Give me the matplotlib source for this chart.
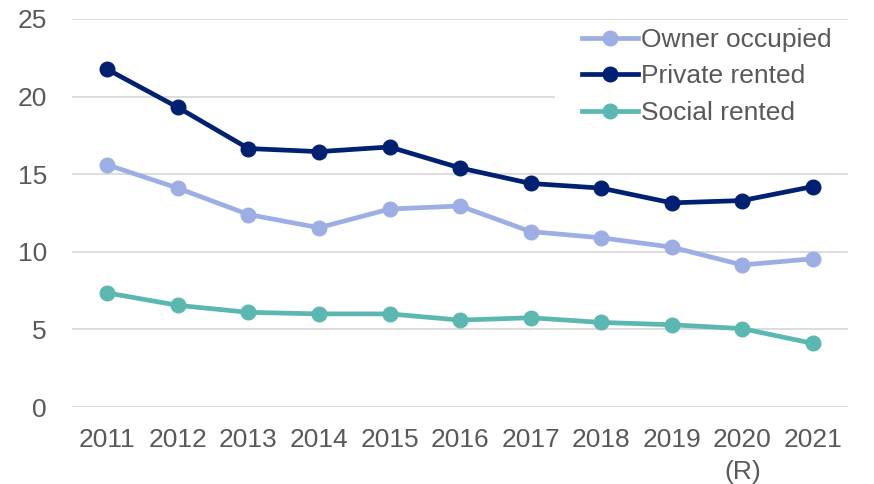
import matplotlib.pyplot as plt
import numpy as np
from matplotlib.patches import Rectangle

# years on the x axis (2020 revised)
years = ["2011", "2012", "2013", "2014", "2015", "2016", "2017", "2018", "2019", "2020\n(R)", "2021"]

# values
owner = [15.6, 14.1, 12.4, 11.55, 12.75, 12.95, 11.3, 10.9, 10.3, 9.15, 9.55]
private = [21.75, 19.3, 16.65, 16.45, 16.75, 15.4, 14.4, 14.1, 13.15, 13.3, 14.2]
social = [7.35, 6.55, 6.1, 6.0, 6.0, 5.6, 5.75, 5.45, 5.3, 5.05, 4.1]

plt.rcParams['font.family'] = ['Liberation Sans', 'DejaVu Sans']
grey = "#595959"
fs = 19

fig = plt.figure(figsize=(8.74, 4.84), dpi=100)
ax = fig.add_axes([0.0824, 0.159, 0.888, 0.802])

x = np.arange(len(years))
ax.plot(x, owner, color="#9DAEE5", lw=3.4, marker="o", ms=10.5, label="Owner occupied", zorder=3)
ax.plot(x, private, color="#002072", lw=3.4, marker="o", ms=10.5, label="Private rented", zorder=3)
ax.plot(x, social, color="#5BB8B0", lw=3.4, marker="o", ms=10.5, label="Social rented", zorder=3)

ax.set_xlim(-0.5, len(years) - 0.5)
ax.set_ylim(0, 25)
ax.set_yticks([0, 5, 10, 15, 20, 25])
ax.set_xticks(x)
ax.set_xticklabels(years)
for lab in ax.get_xticklabels():
    lab.set_linespacing(1.45)
ax.grid(axis="y", color="#D9D9D9", lw=1.3)
ax.set_axisbelow(True)
for s in ax.spines.values():
    s.set_visible(False)
ax.tick_params(length=0, labelsize=fs, colors=grey)
ax.tick_params(axis="x", pad=15)
ax.tick_params(axis="y", pad=18)

# white box behind the legend hides part of the gridlines
ax.add_patch(Rectangle((0.622, 0.662), 0.378, 0.33, transform=ax.transAxes,
                       facecolor="white", edgecolor="none", zorder=2))

leg = ax.legend(loc="upper left", bbox_to_anchor=(0.666, 0.942), bbox_transform=fig.transFigure,
                frameon=False, fontsize=fs, handlelength=2.1, handletextpad=0.15,
                labelspacing=0.47, borderpad=0, borderaxespad=0)
for t in leg.get_texts():
    t.set_color(grey)
leg.set_zorder(5)

fig.savefig("out.png", dpi=100, facecolor="white")
